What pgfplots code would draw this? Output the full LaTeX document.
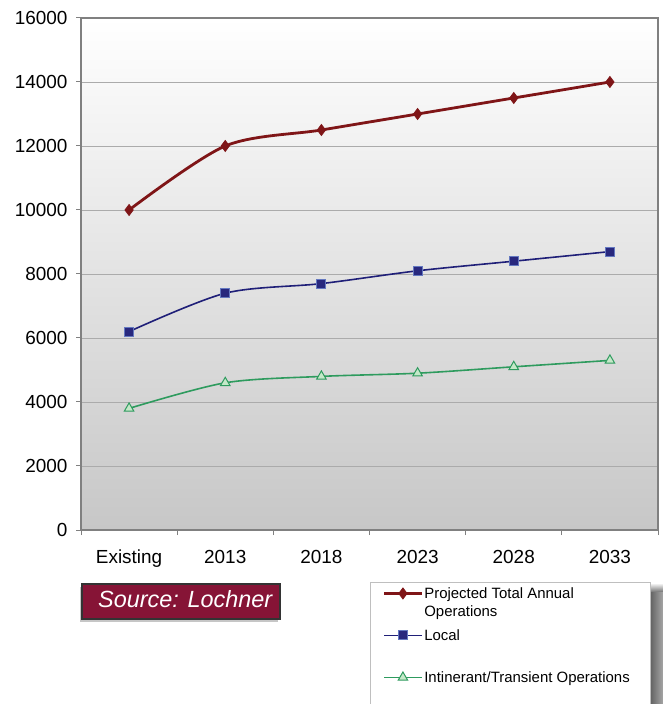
\documentclass[border=0pt]{standalone}
\usepackage{pgfplots}
\pgfplotsset{compat=1.18}
\usepackage{fontspec}
\setmainfont{Liberation Sans}
\usetikzlibrary{shadows}
\definecolor{totred}{HTML}{7F1517}
\definecolor{navyline}{HTML}{1F1F78}
\definecolor{navyfill}{HTML}{28287E}
\definecolor{navyedge}{HTML}{6478C0}
\definecolor{grnline}{HTML}{2E9B5E}
\definecolor{grnfill}{HTML}{C4E8C8}
\definecolor{srcred}{HTML}{861436}
\begin{document}
\begin{tikzpicture}
\useasboundingbox (0,0) rectangle (663bp,704bp);
% source box
\draw[fill=srcred, draw=black!80, line width=1.5bp, drop shadow={shadow xshift=-2bp,shadow yshift=-3bp,opacity=0.45}] (82bp,85bp) rectangle (280bp,120bp);
\node[anchor=base west, inner sep=0pt, text=white, font=\fontsize{23.5}{27}\selectfont\itshape] at (98bp,96bp) {Source: Lochner};
% legend frame with shadow
\shade[left color=black!62, right color=black!35] (650bp,-10bp) rectangle (663bp,112bp);
\shade[top color=white, bottom color=black!55] (650bp,112bp) rectangle (663bp,121bp);
\draw[fill=white, draw=black!25, line width=0.8bp] (370.3bp,-10bp) rectangle (650bp,121.7bp);
\begin{axis}[
  at={(81bp,174bp)}, anchor=south west,
  width=577bp, height=512bp, scale only axis,
  xmin=-0.5, xmax=5.5, ymin=0, ymax=16000,
  xtick={-0.5,0.5,1.5,2.5,3.5,4.5,5.5}, xticklabels={},
  extra x ticks={0,1,2,3,4,5},
  extra x tick labels={Existing,2013,2018,2023,2028,2033},
  extra x tick style={major tick length=0pt},
  ytick={0,2000,...,16000}, scaled y ticks=false,
  yticklabel style={/pgf/number format/1000 sep={}, /pgf/number format/assume math mode=true, xshift=-5bp},
  ymajorgrids, grid style={draw=black!33, line width=0.8bp},
  axis line style={draw=black!50, line width=1.6bp},
  tick pos=left, tick align=outside, major tick length=5bp,
  tick style={draw=black!50, line width=1bp},
  tick label style={font=\fontsize{19}{22}\selectfont, text=black},
  xticklabel style={yshift=-16bp, text height=14bp, text depth=4bp},
  axis background/.style={top color=white, bottom color=black!22},
  legend style={at={(rel axis cs:0.5231,-0.0826)}, anchor=north west,
    draw=none, fill=none, inner sep=0pt, row sep=0pt,
    font=\fontsize{15}{18}\selectfont,
    nodes={inner xsep=1.5bp, inner ysep=0pt, text height=26.4bp, text depth=15.6bp}},
  legend cell align=left,
  legend image code/.code={\draw[mark repeat=2,mark phase=2,#1] plot coordinates {(0bp,0bp) (18.5bp,0bp) (37bp,0bp)};},
]
\addplot[color=totred, line width=2.8bp, smooth, mark=diamond*, mark size=5.5bp,
  mark options={solid, fill=totred, draw=totred, line width=0.8bp}]
  coordinates {(0,10000)(1,12000)(2,12500)(3,13000)(4,13500)(5,14000)};
\addlegendentry{\smash{\begin{tabular}[t]{@{}l@{}}Projected Total Annual\\Operations\end{tabular}}}
\addplot[color=navyline, line width=1.6bp, smooth, mark=square*, mark size=4.5bp,
  mark options={solid, fill=navyfill, draw=navyedge, line width=1bp}]
  coordinates {(0,6200)(1,7400)(2,7700)(3,8100)(4,8400)(5,8700)};
\addlegendentry{Local}
\addplot[color=grnline, line width=1.6bp, smooth, mark=triangle*, mark size=5.5bp,
  mark options={solid, fill=grnfill, draw=grnline, line width=1bp}]
  coordinates {(0,3800)(1,4600)(2,4800)(3,4900)(4,5100)(5,5300)};
\addlegendentry{Intinerant/Transient Operations}
\end{axis}
\end{tikzpicture}
\end{document}
